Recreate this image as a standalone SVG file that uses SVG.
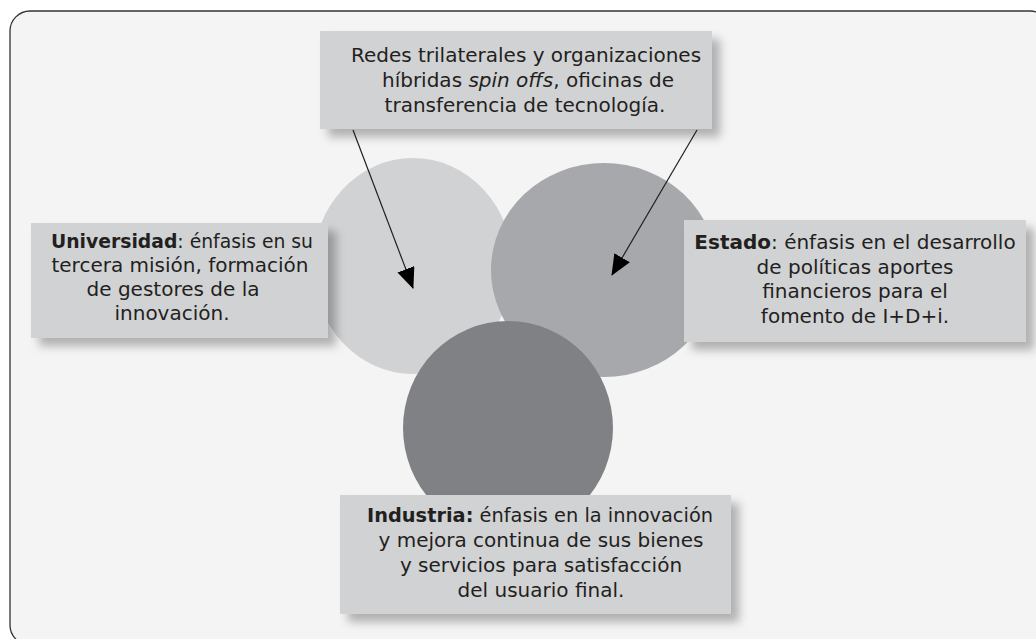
<svg xmlns="http://www.w3.org/2000/svg" width="1036" height="639" viewBox="0 0 1036 639">
<defs>
<style>
.box{fill:#d1d2d4;filter:url(#sh);}
.t{font-family:"DejaVu Sans","Liberation Sans",sans-serif;font-size:20px;fill:#231f20;text-anchor:middle;}
.b{font-weight:bold;}
.conn{stroke:#231f20;stroke-width:1.2;fill:none;marker-end:url(#ah);}
</style>
<filter id="sh" x="-10%" y="-10%" width="130%" height="140%">
<feDropShadow dx="8" dy="8" stdDeviation="5" flood-color="#000" flood-opacity="0.28"/>
</filter>
<marker id="ah" markerUnits="userSpaceOnUse" viewBox="0 0 21 18" refX="20" refY="9" markerWidth="21" markerHeight="18" orient="auto">
<path d="M0,0 L21,9 L0,18 z" fill="#000"/>
</marker>
</defs>
<rect x="10" y="11" width="1040" height="634" rx="20" ry="20" fill="#f4f4f4" stroke="#333" stroke-width="1.3"/>
<g id="circles">
<ellipse cx="413" cy="266" rx="100" ry="108" fill="#d1d2d4"/>
<ellipse cx="604" cy="270" rx="113" ry="107" fill="#a7a8ab"/>
<ellipse cx="508" cy="428" rx="105" ry="107" fill="#808184"/>
</g>
<g id="node-top">
<rect class="box" x="320" y="31" width="392" height="98"/>
<text class="t" x="526" y="62">Redes trilaterales y organizaciones</text>
<text class="t" x="528" y="87">híbridas <tspan font-style="italic">spin offs</tspan>, oficinas de</text>
<text class="t" x="525" y="112">transferencia de tecnología.</text>
</g>
<g id="node-universidad">
<rect class="box" x="31" y="223" width="297" height="115"/>
<text class="t" x="182" y="248" textLength="262" lengthAdjust="spacingAndGlyphs"><tspan class="b">Universidad</tspan>: énfasis en su</text>
<text class="t" x="180" y="272">tercera misión, formación</text>
<text class="t" x="173" y="296">de gestores de la</text>
<text class="t" x="172" y="320">innovación.</text>
</g>
<g id="node-estado">
<rect class="box" x="684" y="220" width="342" height="122"/>
<text class="t" x="855" y="249"><tspan class="b">Estado</tspan>: énfasis en el desarrollo</text>
<text class="t" x="855" y="274">de políticas aportes</text>
<text class="t" x="855" y="298">financieros para el</text>
<text class="t" x="855" y="323">fomento de I+D+i.</text>
</g>
<g id="node-industria">
<rect class="box" x="340" y="495" width="391" height="119"/>
<text class="t" x="540" y="522" textLength="346" lengthAdjust="spacingAndGlyphs"><tspan class="b">Industria:</tspan> énfasis en la innovación</text>
<text class="t" x="541" y="547">y mejora continua de sus bienes</text>
<text class="t" x="541" y="572">y servicios para satisfacción</text>
<text class="t" x="541" y="597">del usuario final.</text>
</g>
<g id="connectors">
<line class="conn" x1="353" y1="130" x2="413" y2="288"/>
<line class="conn" x1="697" y1="130" x2="612" y2="275"/>
</g>
</svg>
